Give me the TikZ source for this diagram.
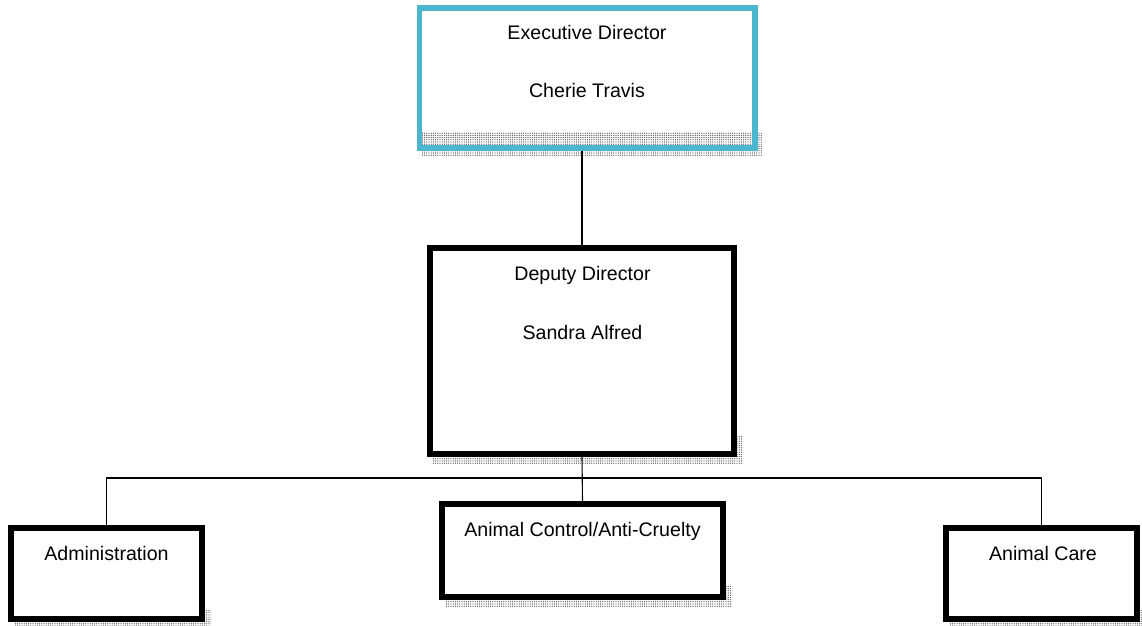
\documentclass[tikz,border=0pt]{standalone}
\usepackage{fontspec}
\setmainfont{Liberation Sans}
\usetikzlibrary{patterns.meta}
\definecolor{execblue}{RGB}{75,183,207}
\begin{document}
\begin{tikzpicture}[x=0.5pt,y=-0.5pt,
  shadowpat/.style={pattern={Dots[distance=1.1pt,radius=0.34pt]},pattern color=black!65},
  box/.style={draw=black,line width=3pt,fill=white,inner sep=0pt},
  execbox/.style={draw=execblue,line width=2.9pt,inner sep=0pt},
  lbl/.style={anchor=base,font=\fontsize{9.8pt}{12pt}\selectfont,inner sep=0pt},
  link/.style={line width=0.55pt}]
\useasboundingbox (0,0) rectangle (1142,626);
% shadows
\fill[shadowpat] (422,133) rectangle (762,156);
\fill[shadowpat] (433,435) rectangle (743,463);
\fill[shadowpat] (445,585) rectangle (732,606);
\fill[shadowpat] (14,610) rectangle (211,626);
\fill[shadowpat] (949,610) rectangle (1142,626);
% boxes
\node[execbox,minimum width=167.6pt,minimum height=69.9pt] (exec) at (587,77.75) {};
\node[box,minimum width=152pt,minimum height=103pt] (dep) at (582,351) {};
\node[box,minimum width=140.5pt,minimum height=46.5pt] (acac) at (582.5,550.5) {};
\node[box,minimum width=95.5pt,minimum height=45.5pt] (admin) at (106.5,573.5) {};
\node[box,minimum width=95.5pt,minimum height=45.5pt] (care) at (1041.5,573.5) {};
% labels
\node[lbl] (t1) at (587,40) {Executive Director};
\node[lbl] (t2) at (587,98) {Cherie Travis};
\node[lbl] (t3) at (582.5,280) {Deputy Director};
\node[lbl] (t4) at (582.5,339) {Sandra Alfred};
\node[lbl] (t5) at (582.5,536) {Animal Control/Anti-Cruelty};
\node[lbl] (t6) at (106.5,560) {Administration};
\node[lbl] (t7) at (1043,560) {Animal Care};
% connectors
\coordinate (bus) at (582.5,478);
\draw[link] (dep.north) -- (dep.north |- exec.south);
\draw[link] (dep.south) -- (acac.north);
\draw[link] (admin.north) |- (bus) -| (care.north);
\end{tikzpicture}
\end{document}
